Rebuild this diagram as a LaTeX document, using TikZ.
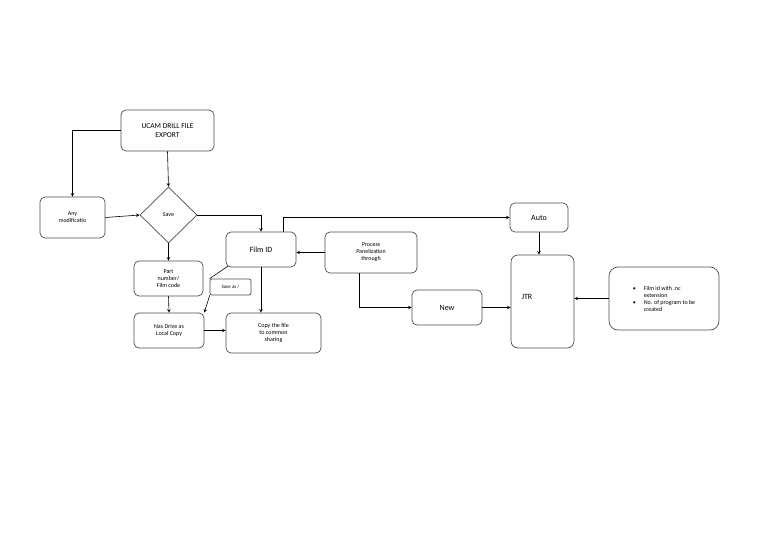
\documentclass[tikz,border=0pt]{standalone}
\usepackage{fontspec}
\setmainfont{Carlito}
\usetikzlibrary{shapes.geometric}
\begin{document}
\begin{tikzpicture}[x=1pt,y=-1pt,
  box/.style={draw=black!70,rounded corners=5pt,line width=0.7pt,align=center,font=\fontsize{6}{7}\selectfont},
  ar/.style={->,>=stealth,line width=0.6pt},
  ln/.style={line width=0.6pt}]
\useasboundingbox (0,0) rectangle (768,543);
\node[box,minimum width=93pt,minimum height=41pt,font=\fontsize{7.5}{8.5}\selectfont] (ucam) at (167.5,130.5) {UCAM DRILL FILE\\EXPORT};
\node[box,minimum width=65pt,minimum height=41pt] (any) at (72.5,217.5) {Any\\modificatio};
\node[draw=black!70,line width=0.7pt,diamond,minimum width=57pt,minimum height=56pt,inner sep=0pt,font=\fontsize{6}{7}\selectfont] (save) at (168.5,215) {Save};
\node[box,minimum width=69pt,minimum height=35pt] (part) at (168.5,278.5) {Part\\number/\\Film code};
\node[box,minimum width=70pt,minimum height=35pt] (nas) at (169,330.5) {Nas Drive as\\Local Copy};
\node[box,rounded corners=2pt,minimum width=41pt,minimum height=16pt,inner sep=1pt,font=\fontsize{5}{6}\selectfont] (sa) at (230.5,287) {Save as /};
\node[box,minimum width=70pt,minimum height=35pt,font=\fontsize{8}{9}\selectfont] (film) at (261,249.5) {Film ID};
\node[box,minimum width=95pt,minimum height=40pt] (copy) at (273.5,333) {Copy the file\\to common\\sharing};
\node[box,minimum width=92pt,minimum height=41pt] (proc) at (371,252.5) {Process\\Panelization\\through};
\node[box,minimum width=58pt,minimum height=29pt,font=\fontsize{8}{9}\selectfont] (auto) at (539,217.5) {Auto};
\node[box,minimum width=70pt,minimum height=35pt,font=\fontsize{8}{9}\selectfont] (new) at (447,307.5) {New};
\node[box,rounded corners=7pt,minimum width=63pt,minimum height=93pt,font=\fontsize{8}{9}\selectfont] (jtr) at (542.5,301.5) {};
\node[font=\fontsize{8}{9}\selectfont,anchor=west] (jtrt) at (518,297) {JTR};
\node[box,rounded corners=9pt,minimum width=110pt,minimum height=63pt,align=left] (bul) at (664,298.5) {\textbullet\hspace{8pt}Film id with .nc\\\hspace{11pt}extension\\\textbullet\hspace{8pt}No. of program to be\\\hspace{11pt}created};
\draw[ar] (ucam.west) -| (any.north);
\draw[ar] (ucam.south) -- (save.north);
\draw[ar] (any.east) -- (save.west);
\draw[ar] (save.east) -| (film.north);
\draw[ar] (save.south) -- (part.north);
\draw[ar] (part.south) -- (nas.north);
\draw[ln] (film.south west) ++(2,-1) -- (sa.north west);
\draw[ar] (sa.south west) -- (nas.north east);
\draw[ar] (film.south) -- (copy.north -| film.south);
\draw[ar] (nas.east) -- (copy.west |- nas.east);
\draw[ar] (film.north) ++(22,0) |- (auto.west);
\draw[ar] (proc.west) -- (film.east |- proc.west);
\draw[ar] (proc.south) ++(-12,0) |- (new.west);
\draw[ar] (new.east) -- (jtr.west |- new.east);
\draw[ar] (auto.south) -- (jtr.north -| auto.south);
\draw[ar] (bul.west) -- (jtr.east |- bul.west);
\end{tikzpicture}
\end{document}
